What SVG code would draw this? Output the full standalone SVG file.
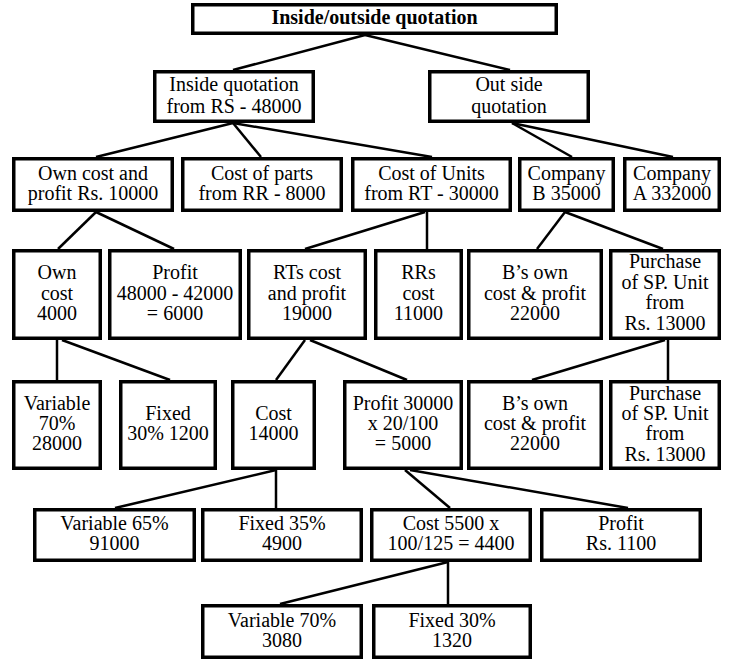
<svg xmlns="http://www.w3.org/2000/svg" width="731" height="661" viewBox="0 0 731 661">
<style>
.b{fill:#fff;stroke:#000;stroke-width:3.5}
.c line{stroke:#000;stroke-width:2.5}
.n text{font-family:'Liberation Serif',serif;font-size:20px;text-anchor:middle;fill:#000}
.n .t{font-weight:bold}
</style>
<rect width="731" height="661" fill="#fff"/>
<g id="connectors" class="c">
<line x1="365" y1="35" x2="233" y2="70"/>
<line x1="365" y1="35" x2="510" y2="70"/>
<line x1="233" y1="123" x2="96" y2="157"/>
<line x1="233" y1="123" x2="261" y2="157"/>
<line x1="233" y1="123" x2="432" y2="157"/>
<line x1="512" y1="123" x2="572" y2="157"/>
<line x1="512" y1="123" x2="673" y2="157"/>
<line x1="96" y1="212" x2="58" y2="249"/>
<line x1="96" y1="212" x2="174" y2="249"/>
<line x1="425" y1="212" x2="305" y2="249"/>
<line x1="427" y1="212" x2="427" y2="249"/>
<line x1="565" y1="212" x2="537" y2="249"/>
<line x1="565" y1="212" x2="663" y2="249"/>
<line x1="57" y1="340" x2="57" y2="380"/>
<line x1="62" y1="340" x2="170" y2="380"/>
<line x1="305" y1="340" x2="276" y2="380"/>
<line x1="310" y1="340" x2="407" y2="380"/>
<line x1="665" y1="340" x2="532" y2="380"/>
<line x1="668" y1="340" x2="668" y2="380"/>
<line x1="276" y1="470" x2="115" y2="508"/>
<line x1="276" y1="470" x2="276" y2="508"/>
<line x1="405" y1="470" x2="450" y2="508"/>
<line x1="410" y1="470" x2="628" y2="508"/>
<line x1="448" y1="562" x2="280" y2="604"/>
<line x1="448" y1="562" x2="448" y2="604"/>
</g>
<g id="nodes" class="n" font-family="'Liberation Serif', serif">
<g id="title"><rect class="b" x="192.75" y="4.75" width="363.5" height="28.5"/><text class="t" x="374.5" y="24">Inside/outside quotation</text></g>
<g id="inside"><rect class="b" x="154.75" y="71.75" width="158.5" height="49.5"/><text x="234" y="91">Inside quotation</text><text x="234" y="113">from RS - 48000</text></g>
<g id="outside"><rect class="b" x="429.75" y="71.75" width="158.5" height="49.5"/><text x="509" y="91">Out side</text><text x="509" y="113">quotation</text></g>
<g id="own_cost_profit"><rect class="b" x="13.75" y="158.75" width="158.5" height="51.5"/><text x="93" y="180">Own cost and</text><text x="93" y="200">profit Rs. 10000</text></g>
<g id="cost_parts"><rect class="b" x="182.75" y="158.75" width="158.5" height="51.5"/><text x="262" y="180">Cost of parts</text><text x="262" y="200">from RR - 8000</text></g>
<g id="cost_units"><rect class="b" x="352.75" y="158.75" width="157.5" height="51.5"/><text x="431.5" y="180">Cost of Units</text><text x="431.5" y="200">from RT - 30000</text></g>
<g id="company_b"><rect class="b" x="519.75" y="158.75" width="93.5" height="51.5"/><text x="566.5" y="180">Company</text><text x="566.5" y="200">B 35000</text></g>
<g id="company_a"><rect class="b" x="624.75" y="158.75" width="94.5" height="51.5"/><text x="672" y="180">Company</text><text x="672" y="200">A 332000</text></g>
<g id="own_cost"><rect class="b" x="13.75" y="250.75" width="86.5" height="87.5"/><text x="57" y="279">Own</text><text x="57" y="299.5">cost</text><text x="57" y="320">4000</text></g>
<g id="profit_6000"><rect class="b" x="109.75" y="250.75" width="130.5" height="87.5"/><text x="175" y="279">Profit</text><text x="175" y="299.5">48000 - 42000</text><text x="175" y="320">= 6000</text></g>
<g id="rts_cost"><rect class="b" x="248.75" y="250.75" width="116.5" height="87.5"/><text x="307" y="279">RTs cost</text><text x="307" y="299.5">and profit</text><text x="307" y="320">19000</text></g>
<g id="rrs_cost"><rect class="b" x="375.75" y="250.75" width="85.5" height="87.5"/><text x="418.5" y="279">RRs</text><text x="418.5" y="299.5">cost</text><text x="418.5" y="320">11000</text></g>
<g id="b_own_1"><rect class="b" x="468.75" y="250.75" width="132.5" height="87.5"/><text x="535" y="279">B’s own</text><text x="535" y="299.5">cost &amp; profit</text><text x="535" y="320">22000</text></g>
<g id="purchase_1"><rect class="b" x="610.75" y="250.75" width="108.5" height="87.5"/><text x="665" y="268">Purchase</text><text x="665" y="288.5">of SP. Unit</text><text x="665" y="309">from</text><text x="665" y="329.5">Rs. 13000</text></g>
<g id="variable_70_28000"><rect class="b" x="13.75" y="381.75" width="86.5" height="86.5"/><text x="57" y="410">Variable</text><text x="57" y="430">70%</text><text x="57" y="450">28000</text></g>
<g id="fixed_30_1200"><rect class="b" x="120.75" y="381.75" width="94.5" height="86.5"/><text x="168" y="420">Fixed</text><text x="168" y="440">30% 1200</text></g>
<g id="cost_14000"><rect class="b" x="232.75" y="381.75" width="81.5" height="86.5"/><text x="273.5" y="420">Cost</text><text x="273.5" y="440">14000</text></g>
<g id="profit_30000"><rect class="b" x="344.75" y="381.75" width="116.5" height="86.5"/><text x="403" y="410">Profit 30000</text><text x="403" y="430">x 20/100</text><text x="403" y="450">= 5000</text></g>
<g id="b_own_2"><rect class="b" x="468.75" y="381.75" width="132.5" height="86.5"/><text x="535" y="410">B’s own</text><text x="535" y="430">cost &amp; profit</text><text x="535" y="450">22000</text></g>
<g id="purchase_2"><rect class="b" x="610.75" y="381.75" width="108.5" height="86.5"/><text x="665" y="399.5">Purchase</text><text x="665" y="420">of SP. Unit</text><text x="665" y="440">from</text><text x="665" y="460.5">Rs. 13000</text></g>
<g id="variable_65"><rect class="b" x="34.75" y="509.75" width="159.5" height="50.5"/><text x="114.5" y="530">Variable 65%</text><text x="114.5" y="550">91000</text></g>
<g id="fixed_35"><rect class="b" x="202.75" y="509.75" width="158.5" height="50.5"/><text x="282" y="530">Fixed 35%</text><text x="282" y="550">4900</text></g>
<g id="cost_5500"><rect class="b" x="371.75" y="509.75" width="158.5" height="50.5"/><text x="451" y="530">Cost 5500 x</text><text x="451" y="550">100/125 = 4400</text></g>
<g id="profit_1100"><rect class="b" x="541.75" y="509.75" width="158.5" height="50.5"/><text x="621" y="530">Profit</text><text x="621" y="550">Rs. 1100</text></g>
<g id="variable_70"><rect class="b" x="202.75" y="605.75" width="158.5" height="51.5"/><text x="282" y="627">Variable 70%</text><text x="282" y="647">3080</text></g>
<g id="fixed_30"><rect class="b" x="373.75" y="605.75" width="156.5" height="51.5"/><text x="452" y="627">Fixed 30%</text><text x="452" y="647">1320</text></g>
</g>
</svg>
